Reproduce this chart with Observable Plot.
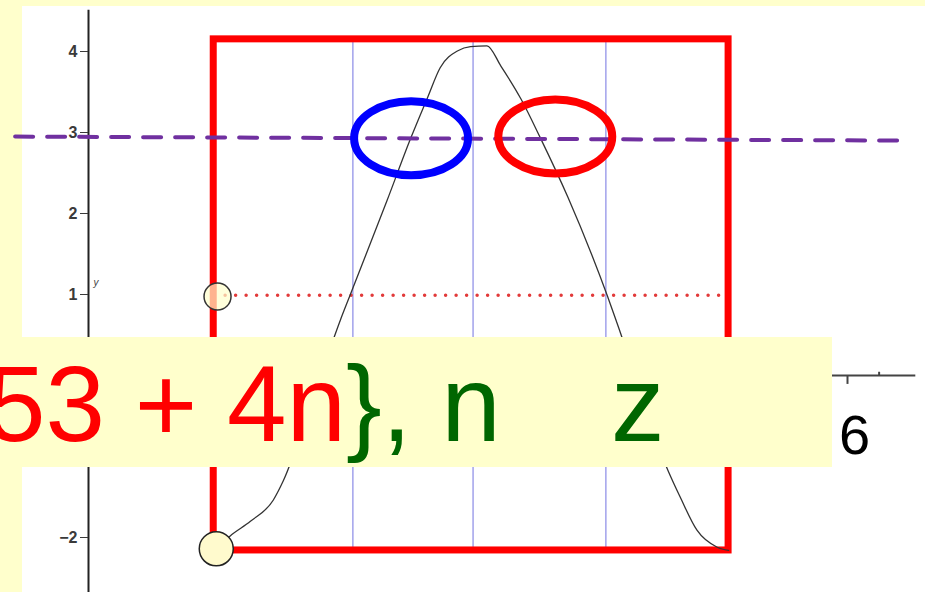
<!DOCTYPE html>
<html>
<head>
<meta charset="utf-8">
<script src="https://cdn.jsdelivr.net/npm/d3@7"></script>
<script src="https://cdn.jsdelivr.net/npm/@observablehq/plot@0.6"></script>
<style>
  html, body { margin: 0; padding: 0; background: #FFFFCC; }
  #stage { position: relative; width: 925px; height: 592px; overflow: hidden; background: #FFFFCC; }
  #paper { position: absolute; left: 22px; top: 6px; width: 903px; height: 586px; background: #ffffff; }
  #chart { position: absolute; left: 0; top: 0; }
  #eqbox { position: absolute; left: 0; top: 337px; width: 832px; height: 130px; background: #FFFFCC; overflow: hidden;
           font-family: "Liberation Sans", Arial, sans-serif; font-size: 107px; line-height: 107px; white-space: pre; }
  #eqmain { position: absolute; left: -14px; top: 14px; }
  #eqz { position: absolute; left: 611px; top: 14px; color: #006600; }
  .red { color: #FF0000; }
  .green { color: #006600; }
</style>
</head>
<body>
<div id="stage">
  <div id="paper"></div>
  <div id="chart"></div>
  <div id="eqbox"><span id="eqmain"></span><span id="eqz"></span></div>
</div>
<script>
// ---- data ----
const curveX = [1.01, 1.12, 1.28, 1.46, 1.54, 1.76, 1.99, 2.07, 2.36, 2.55, 2.68, 2.78, 2.92, 3.02, 3.15, 3.26, 3.42, 3.57, 3.79, 4.10, 4.18, 4.58, 4.68, 4.81, 4.97, 5.06];
const curveY = [-2.14, -1.98, -1.80, -1.54, -1.30, -0.35, 0.68, 1.00, 2.16, 2.94, 3.43, 3.80, 4.01, 4.06, 4.07, 3.82, 3.41, 2.94, 2.20, 0.99, 0.64, -1.17, -1.51, -1.91, -2.12, -2.16];
const yTicks = [4, 3, 2, 1, -2];
const xTickValues = [6];
const xTickLabels = ["6"];
const xMinorTicks = [6.25];
const boxX = [0.99, 5.06];
const boxY = [-2.16, 4.15];
const gridX = [2.09, 3.04, 4.09];
const dashedX = [-0.58, 6.46];
const dashedY = [2.95, 2.90];
const dottedX = [1.08, 5.04];
const dottedY = [0.99, 0.99];
const smallMarkerX = [1.02], smallMarkerY = [0.975];
const bigMarkerX = [1.01], bigMarkerY = [-2.14];
const ringX = [2.55, 3.69];
const ringY = [2.93, 2.95];
const ringColor = ["blue", "red"];
const axisYExtent = [-2.68, 4.51];
const axisXExtent = [0, 6.54];
const eqRed = "53 + 4n";
const eqGreen = "}, n";
const eqZ = "z";
const yLetter = "y";

// ---- build ----
const curve = curveX.map((x, i) => ({x, y: curveY[i]}));
const dashed = dashedX.map((x, i) => ({x, y: dashedY[i]}));
const dotted = dottedX.map((x, i) => ({x, y: dottedY[i]}));
const rings = ringX.map((x, i) => ({x, y: ringY[i], c: ringColor[i]}));
const xTicksData = xTickValues.map((v, i) => ({v, label: xTickLabels[i]}));

const ellipseSymbol = {
  draw(ctx, size) {
    const r = Math.sqrt(size / Math.PI), rx = r * 1.54, ry = r, k = 0.5523;
    ctx.moveTo(rx, 0);
    ctx.bezierCurveTo(rx, ry * k, rx * k, ry, 0, ry);
    ctx.bezierCurveTo(-rx * k, ry, -rx, ry * k, -rx, 0);
    ctx.bezierCurveTo(-rx, -ry * k, -rx * k, -ry, 0, -ry);
    ctx.bezierCurveTo(rx * k, -ry, rx, -ry * k, rx, 0);
    ctx.closePath();
  }
};

const chart = Plot.plot({
  width: 925,
  height: 592,
  marginLeft: 88,
  marginRight: 5,
  marginTop: 0,
  marginBottom: 0,
  style: {background: "transparent", fontFamily: "Liberation Sans, Arial, sans-serif", overflow: "visible"},
  x: {type: "linear", domain: [0, 832 / 126.5], axis: null},
  y: {type: "linear", domain: [(375 - 592) / 81, 375 / 81], axis: null},
  marks: [
    // axes
    Plot.ruleX([0], {x: d => d, y1: axisYExtent[0], y2: axisYExtent[1], stroke: "#222", strokeWidth: 2}),
    Plot.axisY({ticks: yTicks, label: null, tickSize: 8, tickPadding: 3, fontSize: 16, fontWeight: 600, color: "#3a3a3a", tickFormat: d => d < 0 ? "\u2212" + Math.abs(d) : String(d)}),
    Plot.text([yLetter], {x: 0, y: 1.14, dx: 5, text: d => d, fontSize: 10, fontStyle: "italic", fill: "#444", textAnchor: "start"}),
    Plot.ruleY([0], {y: d => d, x1: axisXExtent[0], x2: axisXExtent[1], stroke: "#444", strokeWidth: 2}),
    Plot.ruleX(xTicksData, {x: "v", y1: 0, y2: -0.11, stroke: "#444", strokeWidth: 2}),
    Plot.ruleX(xMinorTicks, {x: d => d, y1: 0, y2: 0.04, stroke: "#444", strokeWidth: 2}),
    Plot.text(xTicksData, {x: "v", y: 0, text: "label", dx: 7, dy: 61, fontSize: 56, fill: "#000", lineAnchor: "middle"}),
    // blue grid lines
    Plot.ruleX(gridX, {x: d => d, y1: boxY[0], y2: boxY[1], stroke: "#8a8ae6", strokeWidth: 1.2}),
    // red rectangle
    Plot.rect([0], {x1: boxX[0], x2: boxX[1], y1: boxY[0], y2: boxY[1], fill: "none", stroke: "#FF0000", strokeWidth: 7}),
    // red dotted line
    Plot.line(dotted, {x: "x", y: "y", stroke: "#e23a3a", strokeWidth: 3.5, strokeDasharray: "0,10.5", strokeLinecap: "round"}),
    // curve
    Plot.line(curve, {x: "x", y: "y", curve: "monotone-x", stroke: "#333", strokeWidth: 1.3}),
    // purple dashed line
    Plot.line(dashed, {x: "x", y: "y", stroke: "#7030A0", strokeWidth: 4, strokeDasharray: "18,14"}),
    // markers
    Plot.dot(smallMarkerX, {x: d => d, y: smallMarkerY, r: 13.5, fill: "#FFFFCC", fillOpacity: 0.7, stroke: "#333", strokeWidth: 1.5}),
    Plot.dot(bigMarkerX, {x: d => d, y: bigMarkerY, r: 17, fill: "#FFFACD", stroke: "#222", strokeWidth: 1.5}),
    // ellipses
    Plot.dot(rings, {x: "x", y: "y", r: 37, symbol: ellipseSymbol, fill: "none", stroke: d => d.c === "blue" ? "#0000FF" : "#FF0000", strokeWidth: 8})
  ]
});
document.getElementById("chart").appendChild(chart);

const main = document.getElementById("eqmain");
const r = document.createElement("span"); r.className = "red"; r.textContent = eqRed;
const g = document.createElement("span"); g.className = "green"; g.textContent = eqGreen;
main.appendChild(r); main.appendChild(g);
document.getElementById("eqz").textContent = eqZ;
</script>
</body>
</html>
